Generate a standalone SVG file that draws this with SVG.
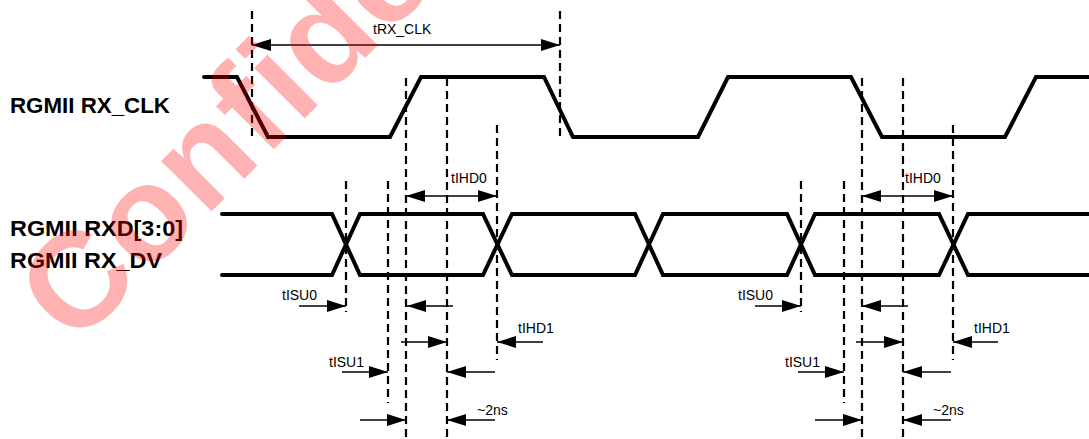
<svg xmlns="http://www.w3.org/2000/svg" width="1089" height="439" viewBox="0 0 1089 439">
<defs>
<marker id="ah" markerUnits="userSpaceOnUse" markerWidth="19" markerHeight="12" refX="19" refY="6" orient="auto-start-reverse" viewBox="0 0 19 12"><path d="M0,0 L19,6 L0,12 z" fill="#000"/></marker>
</defs>
<style>
.wave{fill:none;stroke:#000;stroke-width:4;stroke-linejoin:miter;stroke-linecap:round}
.guide{stroke:#000;stroke-width:2.2;stroke-dasharray:8 5;fill:none}
.dim{stroke:#000;stroke-width:1.3;fill:none;marker-end:url(#ah)}
.dbl{marker-start:url(#ah)}
.sig{font-family:"Liberation Sans",Arial,sans-serif;font-weight:bold;font-size:22px;fill:#000}
.lbl{font-family:"Liberation Sans",Arial,sans-serif;font-size:14px;fill:#000}
.wm{font-family:"Liberation Sans",Arial,sans-serif;font-weight:bold;font-size:135px;fill:#ff0000;fill-opacity:0.3;letter-spacing:2px}
</style>
<rect width="1089" height="439" fill="#fff"/>
<g id="signal-labels">
<text class="sig" x="10" y="113" textLength="160" lengthAdjust="spacingAndGlyphs">RGMII RX_CLK</text>
<text class="sig" x="10" y="236" textLength="173" lengthAdjust="spacingAndGlyphs">RGMII RXD[3:0]</text>
<text class="sig" x="10" y="268" textLength="152" lengthAdjust="spacingAndGlyphs">RGMII RX_DV</text>
</g>
<g id="rx-clk-wave">
<path class="wave" d="M204,77 L237,77 L268,137 L390,137 L421,77 L544,77 L573,137 L698,137 L728,77 L851,77 L882,137 L1005,137 L1036,77 L1089,77"/>
</g>
<g id="rxd-wave">
<path class="wave" d="M222,214 L332,214 L360,275 L483,275 L512,214 L635,214 L663,275 L787,275 L815,214 L939,214 L968,275 L1089,275"/>
<path class="wave" d="M222,275 L332,275 L360,214 L483,214 L512,275 L635,275 L663,214 L787,214 L815,275 L939,275 L968,214 L1089,214"/>
</g>
<g id="guides">
<line class="guide" x1="252" y1="11" x2="252" y2="138"/>
<line class="guide" x1="560" y1="11" x2="560" y2="138"/>
<line class="guide" x1="406" y1="78" x2="406" y2="439"/>
<line class="guide" x1="447" y1="78" x2="447" y2="439"/>
<line class="guide" x1="497" y1="125" x2="497" y2="360"/>
<line class="guide" x1="862" y1="78" x2="862" y2="439"/>
<line class="guide" x1="903" y1="78" x2="903" y2="439"/>
<line class="guide" x1="953" y1="125" x2="953" y2="360"/>
<line class="guide" x1="346" y1="181" x2="346" y2="312"/>
<line class="guide" x1="388" y1="181" x2="388" y2="403"/>
<line class="guide" x1="801" y1="181" x2="801" y2="312"/>
<line class="guide" x1="844" y1="181" x2="844" y2="403"/>
</g>
<g id="connectors">
<line class="dim dbl" x1="252" y1="45" x2="560" y2="45"/>
<line class="dim dbl" x1="406" y1="196" x2="497" y2="196"/>
<line class="dim dbl" x1="862" y1="196" x2="953" y2="196"/>
<line class="dim" x1="299" y1="306" x2="346" y2="306"/>
<line class="dim" x1="453" y1="306" x2="407" y2="306"/>
<line class="dim" x1="401" y1="342" x2="447" y2="342"/>
<line class="dim" x1="543" y1="342" x2="497" y2="342"/>
<line class="dim" x1="342" y1="372" x2="388" y2="372"/>
<line class="dim" x1="495" y1="372" x2="447" y2="372"/>
<line class="dim" x1="360" y1="420" x2="406" y2="420"/>
<line class="dim" x1="495" y1="420" x2="447" y2="420"/>
<line class="dim" x1="755" y1="306" x2="801" y2="306"/>
<line class="dim" x1="908" y1="306" x2="862" y2="306"/>
<line class="dim" x1="856" y1="342" x2="903" y2="342"/>
<line class="dim" x1="998" y1="342" x2="953" y2="342"/>
<line class="dim" x1="798" y1="372" x2="844" y2="372"/>
<line class="dim" x1="951" y1="372" x2="903" y2="372"/>
<line class="dim" x1="815" y1="420" x2="862" y2="420"/>
<line class="dim" x1="951" y1="420" x2="903" y2="420"/>
</g>
<g id="timing-labels">
<text class="lbl" x="373" y="34">tRX_CLK</text>
<text class="lbl" x="451" y="183">tIHD0</text>
<text class="lbl" x="905" y="183">tIHD0</text>
<text class="lbl" x="282" y="300">tISU0</text>
<text class="lbl" x="738" y="300">tISU0</text>
<text class="lbl" x="518" y="333">tIHD1</text>
<text class="lbl" x="974" y="333">tIHD1</text>
<text class="lbl" x="329" y="367">tISU1</text>
<text class="lbl" x="785" y="367">tISU1</text>
<text class="lbl" x="477" y="415">~2ns</text>
<text class="lbl" x="933" y="415">~2ns</text>
</g>
<g id="watermark">
<text class="wm" transform="translate(75,348) rotate(-45)">Confidential</text>
</g>
</svg>
